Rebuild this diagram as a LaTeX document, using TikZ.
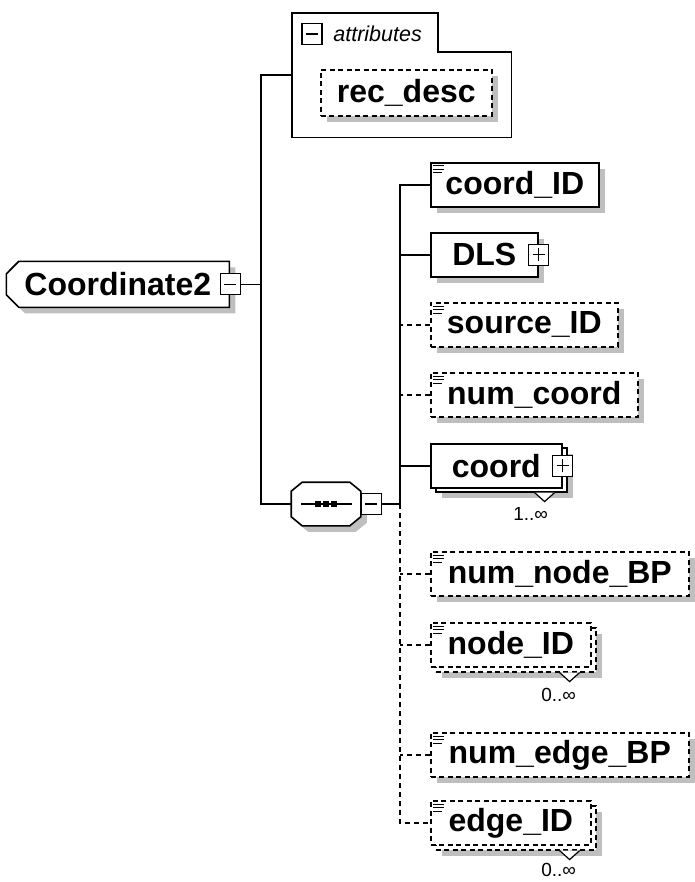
\documentclass[tikz,border=0pt]{standalone}
\usepackage{fontspec}
\setmainfont{Liberation Sans}
\usetikzlibrary{positioning,shapes.misc,shadows}

% small "element" mark in the top left corner of a box
\newcommand{\elemicon}[1]{%
  \foreach \d/\l in {4/11,7.5/11,11/9}
    \draw[line width=1pt] ([shift={(3,\d)}]#1.north west) -- ++(\l,0);}

\begin{document}
\begin{tikzpicture}[
  x=1pt, y=-1pt,
  line width=1.6pt,
  font=\bfseries\fontsize{32}{32}\selectfont,
  shd/.style={drop shadow={shadow xshift=6pt, shadow yshift=-6pt,
              fill=black!25, opacity=1}},
  elem/.style={draw, fill=white, anchor=north west, minimum height=44pt,
               inner sep=0pt},
  opt/.style={elem, dash pattern=on 5pt off 3.5pt},
  sgn/.style={draw, fill=white, line width=1.2pt, minimum width=20pt,
              minimum height=21pt, inner sep=0pt},
  minus/.style={sgn, path picture={
      \draw[line width=1.2pt] ([xshift=4pt]path picture bounding box.west)
        -- ([xshift=-4pt]path picture bounding box.east);}},
  plus/.style={sgn, path picture={
      \draw[line width=1.2pt] ([xshift=4pt]path picture bounding box.west)
        -- ([xshift=-4pt]path picture bounding box.east);
      \draw[line width=1.2pt] ([yshift=4pt]path picture bounding box.south)
        -- ([yshift=-4pt]path picture bounding box.north);}},
  link/.style={line width=1.6pt},
  optlink/.style={link, dash pattern=on 5pt off 4pt},
  mult/.style={font=\normalfont\fontsize{19}{19}\selectfont, inner sep=0pt},
  notch/.style={draw, fill=white, line width=1.2pt},
]
\useasboundingbox (0,0) rectangle (694,882);

% ---------------- root element ------------------------------------------
\node[elem, shd, chamfered rectangle,
      chamfered rectangle corners={north west,south west},
      chamfered rectangle xsep=9pt, minimum width=223pt, minimum height=46pt]
  (root) at (12,267) {Coordinate2};
\node[minus] (rootpm) at (root.east) {};

% ---------------- attributes --------------------------------------------
\node[minimum width=218pt, minimum height=123pt, anchor=north west,
      inner sep=0pt] (attr) at (292,13) {};
\draw (attr.north west) -| ([shift={(146,39)}]attr.north west)
  -| (attr.south east) -| (attr.north west) -- cycle;
\node[minus] (attrpm) at (312,34) {};
\node[right=10pt of attrpm, inner sep=0pt,
      font=\normalfont\itshape\fontsize{21.5}{21.5}\selectfont] (attrlbl) {attributes};
\node[opt, shd, minimum width=171pt, minimum height=46pt]
  (recdesc) at (320,69) {rec\_desc};

% ---------------- sequence compositor -----------------------------------
\node[minimum width=68pt, minimum height=42pt, inner sep=0pt] (seq) at (326,504) {};
\draw[fill=white, shd]
  ([shift={(11,0)}]seq.north west) -- ([shift={(-11,0)}]seq.north east)
  -- ([shift={(0,9)}]seq.north east) -- ([shift={(0,-9)}]seq.south east)
  -- ([shift={(-11,0)}]seq.south east) -- ([shift={(11,0)}]seq.south west)
  -- ([shift={(0,-9)}]seq.south west) -- ([shift={(0,9)}]seq.north west) -- cycle;
\draw[line width=1.2pt] ([xshift=10pt]seq.west) -- ([xshift=-9pt]seq.east);
\foreach \dx in {-8,0,8}
  \fill ([xshift=\dx pt]seq.center) +(-2.8,-2.8) rectangle +(2.8,2.8);
\node[minus, right=0pt of seq] (seqpm) {};

% ---------------- children ----------------------------------------------
\node[elem, shd, minimum width=168pt] (coordID) at (430,162) {coord\_ID};
\node[elem, shd, minimum width=107pt] (dls) at (430,232) {DLS};
\node[plus] (dlspm) at (dls.east) {};
\node[opt, shd, minimum width=187pt] (sourceID) at (430,302) {source\_ID};
\node[opt, shd, minimum width=207pt] (numcoord) at (430,372) {num\_coord};

\node[elem, shd, minimum width=131pt] (coordbk) at (435,447) {};
\node[elem, minimum width=131pt] (coord) at (430,443) {coord};
\node[plus] (coordpm) at (coord.east) {};
\draw[notch] ([xshift=-33pt]coordbk.south east) -- ++(10,9) -- ++(10,-9);
\node[mult] (coordmult) at ([shift={(-37,21)}]coordbk.south east) {1..∞};

\node[opt, shd, minimum width=258pt] (numnode) at (430,551) {num\_node\_BP};

\node[opt, shd, minimum width=160pt] (nodeIDbk) at (435,627) {};
\node[opt, minimum width=160pt] (nodeID) at (430,622) {node\_ID};
\draw[notch] ([xshift=-37pt]nodeIDbk.south east) -- ++(10,9) -- ++(10,-9);
\node[mult] (nodemult) at ([shift={(-38,22)}]nodeIDbk.south east) {0..∞};

\node[opt, shd, minimum width=258pt] (numedge) at (430,732) {num\_edge\_BP};

\node[opt, shd, minimum width=160pt] (edgeIDbk) at (435,805) {};
\node[opt, minimum width=160pt] (edgeID) at (430,800) {edge\_ID};
\draw[notch] ([xshift=-37pt]edgeIDbk.south east) -- ++(10,9) -- ++(10,-9);
\node[mult] (edgemult) at ([shift={(-38,19)}]edgeIDbk.south east) {0..∞};

\foreach \nm in {coordID,sourceID,numcoord,numnode,nodeID,numedge,edgeID}
  {\elemicon{\nm}}

% ---------------- connectors --------------------------------------------
\coordinate (trunkA) at (261,0);
\coordinate (trunkB) at (400,0);
\draw[link] (rootpm.east) -- (rootpm.east -| trunkA);
\draw[link] (attr.west) -| (trunkA |- seq.west) -- (seq.west);
\draw[link] (seqpm.east) -- (seqpm.east -| trunkB);
\draw[link] (coordID.west) -| (trunkB |- seqpm.east);
\draw[optlink] (trunkB |- seqpm.east) |- (edgeID.west);
\foreach \nm in {dls,coord}
  \draw[link] (\nm.west) -- (\nm.west -| trunkB);
\foreach \nm in {sourceID,numcoord,numnode,nodeID,numedge}
  \draw[optlink] (\nm.west) -- (\nm.west -| trunkB);

\end{tikzpicture}
\end{document}
